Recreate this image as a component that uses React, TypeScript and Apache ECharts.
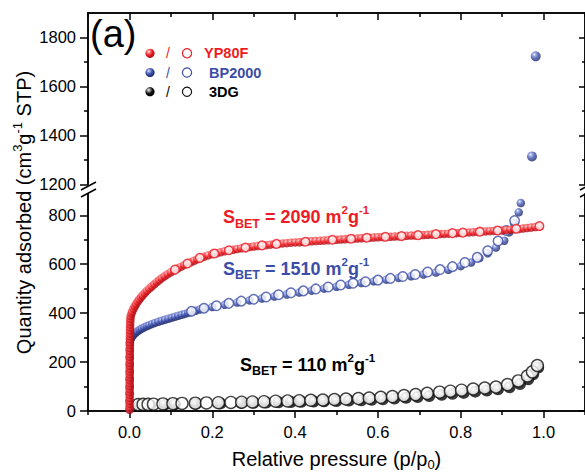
import React, { useEffect, useRef } from "react";
import * as echarts from "echarts";

// ---------- data ----------
const xMajorTicks = [0, 0.2, 0.4, 0.6, 0.8, 1.0];
const xMinorTicks = [-0.1, 0.1, 0.3, 0.5, 0.7, 0.9, 1.1];
const yLowerMajor = [0, 200, 400, 600, 800];
const yLowerMinor = [100, 300, 500, 700];
const yUpperMajor = [1200, 1400, 1600, 1800];
const yUpperMinor = [1300, 1500, 1700];

const seriesNames = ["YP80F", "BP2000", "3DG"];
const sbetValues = ["2090", "1510", "110"];

// YP80F adsorption (filled)
const yp80fAds: [number, number][] = [
  [0.0004, 5], [0.0004, 17], [0.0004, 29], [0.0004, 41], [0.0005, 53], [0.0005, 65],
  [0.0005, 77], [0.0005, 89], [0.0005, 101], [0.0006, 113], [0.0006, 125], [0.0006, 137],
  [0.0006, 149], [0.0007, 161], [0.0007, 173], [0.0007, 185], [0.0008, 197], [0.0008, 209],
  [0.0008, 221], [0.0009, 233], [0.0009, 245], [0.001, 257], [0.001, 269], [0.0011, 281],
  [0.0012, 293], [0.0013, 305], [0.0014, 317], [0.0015, 329], [0.0016, 341], [0.0018, 353],
  [0.002, 365], [0.0025, 377], [0.003, 388], [0.005, 398], [0.007, 407], [0.01, 418],
  [0.013, 428], [0.016, 437], [0.02, 447], [0.024, 456], [0.028, 465], [0.032, 473],
  [0.037, 482], [0.042, 491], [0.048, 500], [0.054, 509], [0.06, 518], [0.066, 527],
  [0.072, 535], [0.078, 543], [0.085, 551], [0.092, 559], [0.1, 567], [0.108, 575],
  [0.116, 582], [0.124, 589], [0.132, 596], [0.14, 602], [0.148, 608], [0.156, 614],
  [0.164, 620], [0.172, 625], [0.18, 630], [0.19, 636], [0.2, 641], [0.21, 645],
  [0.22, 649], [0.23, 653], [0.24, 656], [0.25, 659], [0.26, 662], [0.27, 665],
  [0.28, 667], [0.29, 670], [0.3, 672], [0.31, 674], [0.32, 676], [0.33, 678],
  [0.34, 680], [0.35, 682], [0.36, 683], [0.37, 685], [0.38, 686], [0.39, 688],
  [0.4, 689], [0.41, 690], [0.42, 691], [0.43, 693], [0.44, 694], [0.45, 695],
  [0.46, 696], [0.47, 697], [0.48, 698], [0.49, 699], [0.5, 700], [0.51, 701],
  [0.52, 702], [0.53, 703], [0.54, 704], [0.55, 705], [0.56, 706], [0.57, 707],
  [0.58, 708], [0.59, 709], [0.6, 710], [0.61, 711], [0.62, 712], [0.63, 712],
  [0.64, 713], [0.65, 714], [0.66, 715], [0.67, 716], [0.68, 717], [0.69, 717],
  [0.7, 718], [0.71, 719], [0.72, 720], [0.73, 721], [0.74, 722], [0.75, 723],
  [0.76, 724], [0.77, 725], [0.78, 726], [0.79, 727], [0.8, 728], [0.81, 729],
  [0.82, 730], [0.83, 731], [0.84, 732], [0.85, 733], [0.86, 734], [0.87, 735],
  [0.88, 736], [0.89, 737], [0.9, 738], [0.91, 740], [0.92, 741], [0.93, 743],
  [0.94, 744], [0.95, 746], [0.96, 748], [0.97, 750], [0.98, 752], [0.99, 755],
];
// YP80F desorption (open)
const yp80fDes: [number, number][] = [
  [0.99, 756], [0.934, 745], [0.889, 738], [0.846, 733], [0.805, 729], [0.78, 727],
  [0.74, 723], [0.697, 719], [0.657, 715], [0.618, 712], [0.573, 708], [0.535, 704],
  [0.49, 700], [0.425, 692], [0.355, 683], [0.32, 677], [0.28, 668], [0.24, 657],
  [0.205, 644], [0.17, 626], [0.14, 603], [0.11, 578],
];
// BP2000 adsorption (filled)
const bp2000Ads: [number, number][] = [
  [0.0005, 10], [0.0005, 40], [0.0005, 70], [0.0006, 100], [0.0006, 130], [0.0007, 160],
  [0.0007, 190], [0.0008, 220], [0.0009, 250], [0.001, 275], [0.002, 290], [0.004, 298],
  [0.007, 305], [0.01, 312], [0.015, 320], [0.02, 326], [0.025, 332], [0.03, 337],
  [0.036, 342], [0.042, 347], [0.048, 351], [0.055, 356], [0.062, 360], [0.07, 365],
  [0.078, 369], [0.086, 373], [0.094, 377], [0.102, 381], [0.11, 385], [0.118, 389],
  [0.126, 393], [0.134, 397], [0.142, 401], [0.15, 405], [0.16, 410], [0.17, 415],
  [0.18, 419], [0.2, 425], [0.23, 434], [0.26, 443], [0.29, 452], [0.32, 460],
  [0.35, 468], [0.38, 476], [0.41, 484], [0.44, 492], [0.47, 500], [0.5, 508],
  [0.53, 516], [0.56, 523], [0.59, 530], [0.62, 537], [0.65, 544], [0.68, 551],
  [0.71, 558], [0.74, 566], [0.77, 577], [0.8, 592], [0.825, 607], [0.845, 625],
  [0.865, 645], [0.885, 668], [0.905, 696], [0.917, 730], [0.929, 768], [0.94, 812],
  [0.945, 850], [0.972, 1314], [0.981, 1723],
];
// BP2000 desorption (open)
const bp2000Des: [number, number][] = [
  [0.93, 778], [0.91, 738], [0.89, 695], [0.865, 655], [0.84, 628], [0.81, 607],
  [0.78, 590], [0.75, 578], [0.72, 568], [0.69, 558], [0.66, 550], [0.63, 542],
  [0.6, 535], [0.57, 528], [0.54, 522], [0.51, 515], [0.48, 507], [0.45, 499],
  [0.42, 491], [0.39, 483], [0.36, 475], [0.33, 466], [0.3, 457], [0.27, 449],
  [0.24, 440], [0.21, 430], [0.18, 420], [0.15, 408],
];
// 3DG adsorption (filled)
const dg3Ads: [number, number][] = [
  [0.025, 23], [0.05, 24], [0.085, 26], [0.11, 27], [0.16, 29], [0.22, 31],
  [0.27, 33], [0.3, 34], [0.33, 35], [0.36, 36], [0.39, 37], [0.415, 38],
  [0.445, 39], [0.47, 40], [0.5, 41], [0.53, 43], [0.56, 44], [0.585, 46],
  [0.612, 48], [0.64, 51], [0.668, 54], [0.696, 57], [0.724, 61], [0.754, 66],
  [0.78, 70], [0.807, 74], [0.835, 79], [0.863, 84], [0.89, 89], [0.918, 97],
  [0.943, 110], [0.963, 130], [0.975, 150], [0.987, 178],
];
// 3DG desorption (open)
const dg3Des: [number, number][] = [
  [0.021, 26], [0.033, 27], [0.045, 27], [0.058, 28], [0.081, 29], [0.105, 30],
  [0.127, 31], [0.159, 32], [0.186, 33], [0.215, 34], [0.245, 35], [0.271, 36],
  [0.297, 37], [0.325, 38], [0.353, 40], [0.382, 41], [0.41, 42], [0.438, 44],
  [0.467, 45], [0.495, 47], [0.523, 49], [0.553, 51], [0.579, 53], [0.607, 56],
  [0.635, 59], [0.663, 63], [0.691, 67], [0.719, 72], [0.749, 77], [0.775, 81],
  [0.802, 85], [0.83, 90], [0.858, 94], [0.885, 98], [0.913, 108], [0.939, 123],
  [0.961, 143], [0.973, 160], [0.985, 186],
];

// ---------- styles ----------
const FONT = "'Liberation Sans', Arial, Helvetica, sans-serif";
const RED = "#ed1c24";
const BLUE = "#3b4ea7";
const BLACK = "#111111";
const BREAK_VALUE = 1200;

function sphere(light: string, base: string, dark: string) {
  return new echarts.graphic.RadialGradient(0.36, 0.32, 0.72, [
    { offset: 0, color: "#ffffff" },
    { offset: 0.2, color: light },
    { offset: 0.55, color: base },
    { offset: 1, color: dark },
  ]);
}

const lineStyle = { color: "#000", width: 1.5 };

function makeX(gridIndex: number, position: string, major: boolean, inside: boolean, labels: boolean) {
  return {
    type: "value",
    gridIndex,
    position,
    min: -0.1,
    max: 1.1,
    splitLine: { show: false },
    axisLine: { show: true, onZero: false, lineStyle },
    axisTick: {
      show: true,
      inside,
      length: major ? 7 : 4,
      customValues: major ? xMajorTicks : xMinorTicks,
      lineStyle,
    },
    axisLabel: labels
      ? {
          show: true,
          customValues: xMajorTicks,
          formatter: (v: number) => v.toFixed(1),
          fontSize: 16.5,
          fontFamily: FONT,
          color: "#000",
          margin: 12,
        }
      : { show: false },
  };
}

function makeY(
  gridIndex: number,
  position: string,
  min: number,
  max: number,
  ticks: number[],
  major: boolean,
  inside: boolean,
  labels: boolean
) {
  return {
    type: "value",
    gridIndex,
    position,
    min,
    max,
    splitLine: { show: false },
    axisLine: { show: true, onZero: false, lineStyle },
    axisTick: {
      show: true,
      inside,
      length: major ? (inside ? 6 : 8) : inside ? 3 : 4,
      customValues: ticks,
      lineStyle,
    },
    axisLabel: labels
      ? {
          show: true,
          customValues: ticks,
          formatter: (v: number) => String(Math.round(v)),
          fontSize: 16.5,
          fontFamily: FONT,
          color: "#000",
          margin: 12,
        }
      : { show: false },
  };
}

function sbetText(value: string, x: number, y: number, color: string) {
  return {
    type: "text",
    x,
    y,
    silent: true,
    style: {
      text: `{m|S}{sub|BET}{m| = ${value} m}{sup|2}{m|g}{sup|-1}`,
      fill: color,
      verticalAlign: "middle",
      align: "left",
      rich: {
        m: { fontSize: 18, fontWeight: "bold", fontFamily: FONT, fill: color, lineHeight: 26 },
        sub: { fontSize: 12.5, fontWeight: "bold", fontFamily: FONT, fill: color, lineHeight: 13, verticalAlign: "bottom" },
        sup: { fontSize: 11.5, fontWeight: "bold", fontFamily: FONT, fill: color, lineHeight: 18, verticalAlign: "top" },
      },
    },
  };
}

function legendRow(y: number, color: string, light: string, dark: string, name: string, textX: number) {
  return [
    { type: "circle", silent: true, shape: { cx: 150, cy: y, r: 4.6 }, style: { fill: sphere(light, color, dark) } },
    {
      type: "text",
      silent: true,
      x: 168,
      y,
      style: { text: "/", fill: color === BLACK ? "#000" : color, fontSize: 14, fontFamily: FONT, align: "center", verticalAlign: "middle" },
    },
    { type: "circle", silent: true, shape: { cx: 187, cy: y, r: 4.6 }, style: { fill: "#fff", stroke: color, lineWidth: 1.2 } },
    {
      type: "text",
      silent: true,
      x: textX,
      y,
      style: { text: name, fill: color === BLACK ? "#000" : color, fontSize: 14.5, fontWeight: "bold", fontFamily: FONT, align: "left", verticalAlign: "middle" },
    },
  ];
}

export default function App() {
  const ref = useRef<HTMLDivElement>(null);

  useEffect(() => {
    document.body.style.margin = "0";
    if (!ref.current) return;
    const chart = echarts.init(ref.current, undefined, { renderer: "svg" });

    const redSphere = sphere("#ff8a8a", RED, "#9e0d12");
    const blueSphere = sphere("#8d9be0", BLUE, "#1c275f");
    const blackSphere = sphere("#9a9a9a", "#1a1a1a", "#000000");

    const lowerBlue = bp2000Ads.filter((d) => d[1] < BREAK_VALUE);
    const upperBlue = bp2000Ads.filter((d) => d[1] >= BREAK_VALUE);

    const option: any = {
      animation: false,
      backgroundColor: "#ffffff",
      grid: [
        { left: 88, width: 500, top: 194, height: 217 },
        { left: 88, width: 500, top: 13, height: 171.3 },
      ],
      xAxis: [
        makeX(0, "bottom", true, false, true),
        makeX(0, "bottom", false, false, false),
        makeX(1, "top", true, true, false),
        makeX(1, "top", false, true, false),
      ],
      yAxis: [
        makeY(0, "left", 0, 887, yLowerMajor, true, false, true),
        makeY(0, "left", 0, 887, yLowerMinor, false, false, false),
        makeY(0, "right", 0, 887, yLowerMajor, true, true, false),
        makeY(0, "right", 0, 887, yLowerMinor, false, true, false),
        makeY(1, "left", 1200, 1900, yUpperMajor, true, false, true),
        makeY(1, "left", 1200, 1900, yUpperMinor, false, false, false),
        makeY(1, "right", 1200, 1900, yUpperMajor, true, true, false),
        makeY(1, "right", 1200, 1900, yUpperMinor, false, true, false),
      ],
      series: [
        {
          name: "3DG ads",
          type: "scatter",
          xAxisIndex: 0,
          yAxisIndex: 0,
          data: dg3Ads,
          symbol: "circle",
          symbolSize: 12,
          itemStyle: { color: blackSphere },
          silent: true,
        },
        {
          name: "3DG des",
          type: "scatter",
          xAxisIndex: 0,
          yAxisIndex: 0,
          data: dg3Des,
          symbol: "circle",
          symbolSize: 12,
          itemStyle: { color: "#fff", borderColor: BLACK, borderWidth: 1.4 },
          silent: true,
        },
        {
          name: "BP2000 ads",
          type: "scatter",
          xAxisIndex: 0,
          yAxisIndex: 0,
          data: lowerBlue,
          symbol: "circle",
          symbolSize: 8.5,
          itemStyle: { color: blueSphere },
          silent: true,
        },
        {
          name: "BP2000 des",
          type: "scatter",
          xAxisIndex: 0,
          yAxisIndex: 0,
          data: bp2000Des,
          symbol: "circle",
          symbolSize: 9.5,
          itemStyle: { color: "#fff", borderColor: BLUE, borderWidth: 1.5 },
          silent: true,
        },
        {
          name: "YP80F ads",
          type: "scatter",
          xAxisIndex: 0,
          yAxisIndex: 0,
          data: yp80fAds,
          symbol: "circle",
          symbolSize: 8.5,
          itemStyle: { color: redSphere },
          silent: true,
        },
        {
          name: "YP80F des",
          type: "scatter",
          xAxisIndex: 0,
          yAxisIndex: 0,
          data: yp80fDes,
          symbol: "circle",
          symbolSize: 8.5,
          itemStyle: { color: "#fff", borderColor: RED, borderWidth: 1.5 },
          silent: true,
        },
        {
          name: "BP2000 ads (upper)",
          type: "scatter",
          xAxisIndex: 2,
          yAxisIndex: 4,
          data: upperBlue,
          symbol: "circle",
          symbolSize: 10,
          itemStyle: { color: blueSphere },
          silent: true,
        },
      ],
      graphic: [
        // axis break marks
        { type: "line", silent: true, shape: { x1: 81, y1: 190, x2: 96, y2: 182 }, style: { stroke: "#000", lineWidth: 1.5 } },
        { type: "line", silent: true, shape: { x1: 81, y1: 197, x2: 96, y2: 189 }, style: { stroke: "#000", lineWidth: 1.5 } },
        { type: "line", silent: true, shape: { x1: 580, y1: 190, x2: 595, y2: 182 }, style: { stroke: "#000", lineWidth: 1.5 } },
        { type: "line", silent: true, shape: { x1: 580, y1: 197, x2: 595, y2: 189 }, style: { stroke: "#000", lineWidth: 1.5 } },
        // panel label
        {
          type: "text",
          silent: true,
          x: 90,
          y: 33.5,
          style: { text: "(a)", fontSize: 38, fontFamily: FONT, fill: "#000", align: "left", verticalAlign: "middle" },
        },
        // legend
        ...legendRow(53.3, RED, "#ff8a8a", "#9e0d12", seriesNames[0], 204),
        ...legendRow(72.5, BLUE, "#8d9be0", "#1c275f", seriesNames[1], 209),
        ...legendRow(91.7, BLACK, "#9a9a9a", "#000000", seriesNames[2], 209),
        // BET annotations
        sbetText(sbetValues[0], 223, 217, RED),
        sbetText(sbetValues[1], 223, 268.5, BLUE),
        sbetText(sbetValues[2], 240, 364.5, "#000"),
        // axis titles
        {
          type: "text",
          silent: true,
          x: 336.5,
          y: 459,
          style: {
            text: "{m|Relative pressure (p/p}{sub|0}{m|)}",
            align: "center",
            verticalAlign: "middle",
            rich: {
              m: { fontSize: 20, fontFamily: FONT, fill: "#000", lineHeight: 24 },
              sub: { fontSize: 13, fontFamily: FONT, fill: "#000", lineHeight: 14, verticalAlign: "bottom" },
            },
          },
        },
        {
          type: "text",
          silent: true,
          x: 24,
          y: 212.5,
          rotation: Math.PI / 2,
          style: {
            text: "{m|Quantity adsorbed (cm}{sup|3}{m|g}{sup|-1}{m| STP)}",
            align: "center",
            verticalAlign: "middle",
            rich: {
              m: { fontSize: 20, fontFamily: FONT, fill: "#000", lineHeight: 26 },
              sup: { fontSize: 13, fontFamily: FONT, fill: "#000", lineHeight: 18, verticalAlign: "top" },
            },
          },
        },
      ],
    };

    chart.setOption(option);
    return () => chart.dispose();
  }, []);

  return (
    <div
      ref={ref}
      style={{ position: "fixed", left: 0, top: 0, width: 585, height: 473, background: "#fff" }}
    />
  );
}
